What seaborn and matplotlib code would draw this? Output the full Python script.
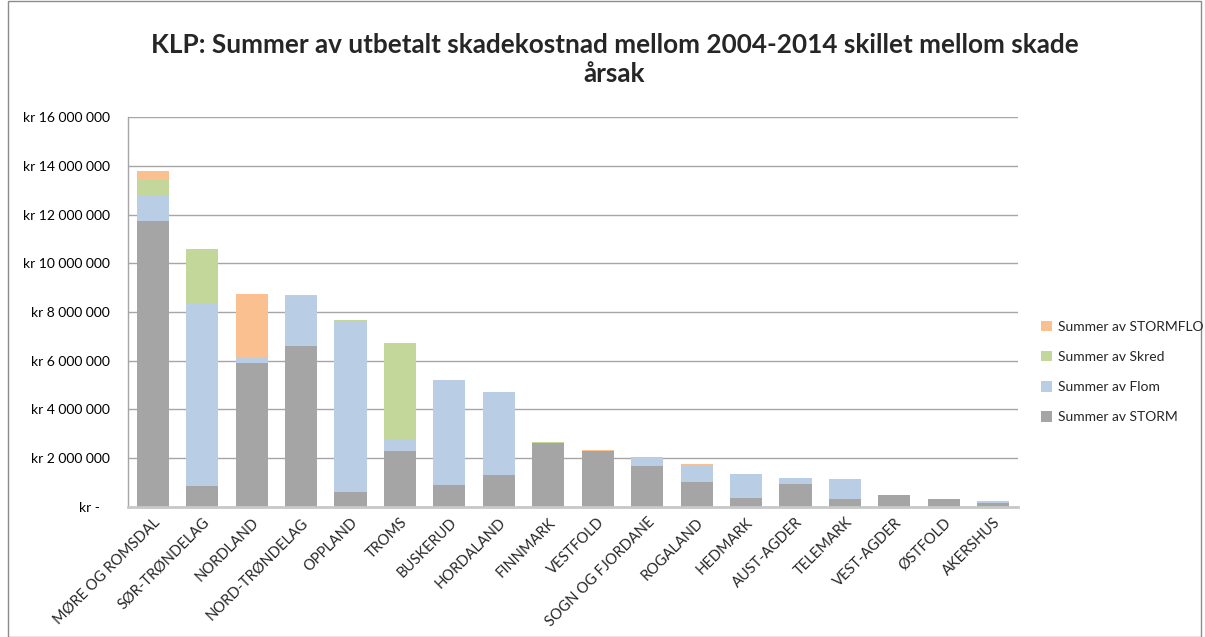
import matplotlib
matplotlib.use("Agg")
import matplotlib.pyplot as plt
import seaborn as sns
import pandas as pd
import numpy as np
from matplotlib.patches import Patch, Rectangle
from matplotlib.ticker import FuncFormatter

# Fylker og utbetalt skadekostnad (mill. kr) per skadeårsak
fylker = [
    "MØRE OG ROMSDAL", "SØR-TRØNDELAG", "NORDLAND", "NORD-TRØNDELAG", "OPPLAND",
    "TROMS", "BUSKERUD", "HORDALAND", "FINNMARK", "VESTFOLD", "SOGN OG FJORDANE",
    "ROGALAND", "HEDMARK", "AUST-AGDER", "TELEMARK", "VEST-AGDER", "ØSTFOLD", "AKERSHUS",
]
storm = [11.73, 0.86, 5.91, 6.60, 0.63, 2.28, 0.90, 1.32, 2.63, 2.29, 1.69,
         1.04, 0.36, 0.93, 0.33, 0.49, 0.33, 0.18]
flom = [1.06, 7.50, 0.21, 2.06, 6.99, 0.52, 4.33, 3.38, 0.00, 0.00, 0.38,
        0.67, 0.98, 0.27, 0.81, 0.00, 0.00, 0.05]
skred = [0.61, 2.21, 0.00, 0.00, 0.07, 3.94, 0.00, 0.00, 0.05, 0.00, 0.00,
         0.00, 0.00, 0.00, 0.00, 0.00, 0.00, 0.00]
stormflo = [0.37, 0.00, 2.61, 0.03, 0.00, 0.00, 0.00, 0.00, 0.00, 0.05, 0.00,
            0.06, 0.00, 0.00, 0.00, 0.00, 0.00, 0.00]

serier = ["Summer av STORMFLO", "Summer av Skred", "Summer av Flom", "Summer av STORM"]
farger = {
    "Summer av STORM": "#A5A5A5",
    "Summer av Flom": "#B9CDE5",
    "Summer av Skred": "#C4D79B",
    "Summer av STORMFLO": "#FAC090",
}

df = pd.DataFrame({
    "Fylke": fylker,
    "Summer av STORM": np.array(storm) * 1e6,
    "Summer av Flom": np.array(flom) * 1e6,
    "Summer av Skred": np.array(skred) * 1e6,
    "Summer av STORMFLO": np.array(stormflo) * 1e6,
})
# kumulative summer for stablede søyler
df["cum_storm"] = df["Summer av STORM"]
df["cum_flom"] = df["cum_storm"] + df["Summer av Flom"]
df["cum_skred"] = df["cum_flom"] + df["Summer av Skred"]
df["cum_stormflo"] = df["cum_skred"] + df["Summer av STORMFLO"]

sns.set_theme(style="white")
plt.rcParams["font.family"] = ["Lato", "DejaVu Sans"]

fig = plt.figure(figsize=(12.05, 6.37), dpi=100)
ax = fig.add_axes([0.1062, 0.2041, 0.7386, 0.6122])

# tegn fra høyeste kumulative sum og ned, slik at lagene havner oppå hverandre
for col, navn in [("cum_stormflo", "Summer av STORMFLO"), ("cum_skred", "Summer av Skred"),
                  ("cum_flom", "Summer av Flom"), ("cum_storm", "Summer av STORM")]:
    sns.barplot(data=df, x="Fylke", y=col, color=farger[navn], width=0.65,
                saturation=1, edgecolor="none", linewidth=0, ax=ax, zorder=3)

ax.set_ylim(0, 16e6)
ax.set_xlim(-0.5, len(fylker) - 0.5)
ax.set_yticks(np.arange(0, 16e6 + 1, 2e6))


def kr_fmt(v, pos):
    if v == 0:
        return "kr -   "
    return "kr " + f"{int(v):,}".replace(",", " ")


ax.yaxis.set_major_formatter(FuncFormatter(kr_fmt))
ax.grid(axis="y", color="#A6A6A6", linewidth=1, zorder=0)
ax.set_axisbelow(True)
ax.set_xlabel("")
ax.set_ylabel("")

for side in ["top", "right"]:
    ax.spines[side].set_visible(False)
ax.spines["left"].set_color("#A6A6A6")
ax.spines["left"].set_linewidth(1)
ax.spines["bottom"].set_color("#C8C8C8")
ax.spines["bottom"].set_linewidth(2)
ax.spines["bottom"].set_zorder(4)

ax.tick_params(axis="y", length=0, pad=13, labelsize=10, colors="#000000")
ax.tick_params(axis="x", length=0, pad=6, labelsize=10.5)
plt.setp(ax.get_xticklabels(), rotation=45, ha="right", rotation_mode="anchor")

fig.suptitle("KLP: Summer av utbetalt skadekostnad mellom 2004-2014 skillet mellom skade\nårsak",
             x=0.51, y=0.948, fontsize=18.8, fontweight="bold", linespacing=1.25)

handles = [Patch(facecolor=farger[s], edgecolor="none", label=s) for s in serier]
fig.legend(handles=handles, loc="center left", bbox_to_anchor=(0.864, 0.416),
           frameon=False, fontsize=10, handlelength=0.8, handleheight=0.8,
           handletextpad=0.4, labelspacing=1.3, borderpad=0, borderaxespad=0)

# ramme rundt figuren som i originalen
fig.patches.append(Rectangle((0.007, 0.0), 0.99, 0.999, transform=fig.transFigure,
                             fill=False, edgecolor="#8C8C8C", linewidth=1))

fig.savefig("out.png", dpi=100)
